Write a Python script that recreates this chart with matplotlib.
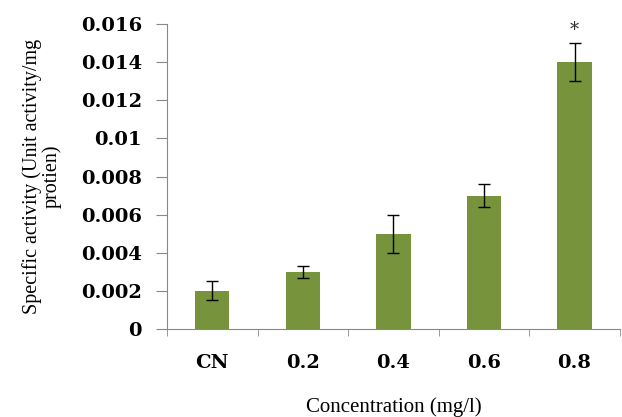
import numpy as np
import matplotlib.pyplot as plt

# data
categories = ["CN", "0.2", "0.4", "0.6", "0.8"]
activity = [0.002, 0.003, 0.005, 0.007, 0.014]
errors = [0.0005, 0.0003, 0.001, 0.0006, 0.001]
star_labels = ["", "", "", "", "*"]
yticks = [0, 0.002, 0.004, 0.006, 0.008, 0.01, 0.012, 0.014, 0.016]
ytick_labels = ["0", "0.002", "0.004", "0.006", "0.008", "0.01", "0.012", "0.014", "0.016"]

fig = plt.figure(figsize=(6.22, 4.17), dpi=100)
ax = fig.add_axes([0.2685, 0.211, 0.728, 0.731])

x = np.arange(len(categories))
ax.bar(x, activity, width=0.38, color="#77933C", zorder=2)
ax.errorbar(x, activity, yerr=errors, fmt="none", ecolor="black",
            elinewidth=1.0, capsize=4.5, capthick=1.0, zorder=3)

for xi, v, e, s in zip(x, activity, errors, star_labels):
    if s:
        ax.text(xi, v + e + 0.0002, s, ha="center", va="bottom",
                fontsize=13, family="DejaVu Serif", color="#333333")

ax.set_xlim(-0.5, len(categories) - 0.5)
ax.set_ylim(0, 0.016)
ax.set_yticks(yticks)
ax.set_yticklabels(ytick_labels, family="DejaVu Serif", fontweight="bold", fontsize=14)
ax.set_xticks(x)
ax.set_xticklabels(categories, family="DejaVu Serif", fontweight="bold", fontsize=14)
ax.tick_params(axis="x", length=0, pad=18)
ax.set_xticks(np.arange(len(categories) + 1) - 0.5, minor=True)
ax.tick_params(axis="x", which="minor", length=5, color="#888888", direction="out")
ax.tick_params(axis="y", length=8, color="#888888", direction="out", pad=10)

for side in ["top", "right"]:
    ax.spines[side].set_visible(False)
for side in ["left", "bottom"]:
    ax.spines[side].set_color("#888888")

ax.set_ylabel("Specific activity (Unit activity/mg\nprotien)", family="Liberation Serif",
              fontsize=14.5, linespacing=1.0, labelpad=14)
ax.set_xlabel("Concentration (mg/l)", family="Liberation Serif", fontsize=15, labelpad=18)

fig.savefig("out.png", dpi=100)
